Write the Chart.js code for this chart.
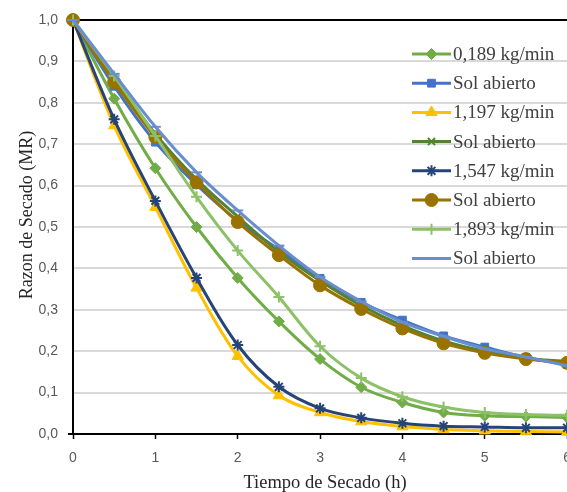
<!DOCTYPE html>
<html>
<head>
<meta charset="utf-8">
<script src="https://cdn.jsdelivr.net/npm/chart.js@4.4.0/dist/chart.umd.min.js"></script>
<style>
  html, body { margin: 0; padding: 0; background: #ffffff; overflow: hidden; }
  #wrap { width: 620px; height: 492px; position: relative; }
  #c { position: absolute; left: 0; top: 0; }
</style>
</head>
<body>
<div id="wrap"><canvas id="c" width="575" height="492"></canvas></div>
<script>
// ---- Data ----
const times = [0, 0.5, 1, 1.5, 2, 2.5, 3, 3.5, 4, 4.5, 5, 5.5, 6];
const seriesLabels = ['0,189 kg/min', 'Sol abierto', '1,197 kg/min', 'Sol abierto', '1,547 kg/min', 'Sol abierto', '1,893 kg/min', 'Sol abierto'];
const mr0189   = [1.0, 0.81, 0.642, 0.500, 0.377, 0.272, 0.181, 0.113, 0.076, 0.052, 0.044, 0.042, 0.040];
const solA     = [1.0, 0.84, 0.705, 0.602, 0.515, 0.445, 0.376, 0.318, 0.275, 0.237, 0.210, 0.185, 0.168];
const mr1197   = [1.0, 0.745, 0.548, 0.353, 0.188, 0.093, 0.052, 0.030, 0.018, 0.011, 0.008, 0.006, 0.005];
const solB     = [1.0, 0.86, 0.725, 0.615, 0.525, 0.440, 0.370, 0.310, 0.262, 0.225, 0.200, 0.183, 0.175];
const mr1547   = [1.0, 0.760, 0.563, 0.377, 0.215, 0.114, 0.062, 0.039, 0.026, 0.019, 0.017, 0.015, 0.015];
const solC     = [1.0, 0.85, 0.717, 0.608, 0.512, 0.432, 0.359, 0.302, 0.255, 0.219, 0.196, 0.181, 0.172];
const mr1893   = [1.0, 0.865, 0.720, 0.573, 0.443, 0.331, 0.212, 0.135, 0.090, 0.065, 0.052, 0.047, 0.045];
const solD     = [1.0, 0.87, 0.742, 0.632, 0.540, 0.455, 0.379, 0.320, 0.270, 0.236, 0.206, 0.186, 0.165];
const yTickLabels = ['0,0','0,1','0,2','0,3','0,4','0,5','0,6','0,7','0,8','0,9','1,0'];
const xTickLabels = ['0','1','2','3','4','5','6'];
const xTitle = 'Tiempo de Secado (h)';
const yTitle = 'Razon de Secado (MR)';

const allSeries = [mr0189, solA, mr1197, solB, mr1547, solC, mr1893, solD];
const colors = ['#70AD47', '#4472C4', '#FFC000', '#548235', '#264478', '#997300', '#8CC168', '#698ED0'];
const styles = ['rectRot', 'rect', 'triangle', 'crossRot', 'star', 'circle', 'cross', 'line'];
const radii  = [5.5, 5.5, 6.5, 5, 5.5, 6.5, 5.5, 5.5];

const TARGET_RIGHT = 567;

function buildDatasets() {
  return allSeries.map((vals, i) => {
    const stroked = ['crossRot', 'star', 'cross', 'line'].includes(styles[i]);
    return {
      label: seriesLabels[i],
      data: times.map((t, k) => ({ x: t, y: vals[k] })),
      borderColor: colors[i],
      backgroundColor: colors[i],
      borderWidth: 3,
      tension: 0.35,
      pointStyle: styles[i],
      pointRadius: radii[i],
      pointBackgroundColor: colors[i],
      pointBorderColor: colors[i],
      pointBorderWidth: stroked ? 2 : 1,
      clip: false,
      order: allSeries.length - i
    };
  });
}

const extrasPlugin = {
  id: 'xlExtras',
  afterDraw(chart) {
    const ctx = chart.ctx;
    const top = 54, step = 29.2, x0 = 412, x1 = 451;
    ctx.save();
    chart.data.datasets.forEach((ds, i) => {
      const y = top + i * step;
      ctx.strokeStyle = ds.borderColor;
      ctx.lineWidth = 3;
      ctx.beginPath(); ctx.moveTo(x0, y); ctx.lineTo(x1, y); ctx.stroke();
      ctx.fillStyle = ds.pointBackgroundColor;
      ctx.strokeStyle = ds.pointBorderColor;
      ctx.lineWidth = ds.pointBorderWidth;
      Chart.helpers.drawPoint(ctx, { pointStyle: ds.pointStyle, radius: ds.pointRadius, rotation: 0, borderWidth: ds.pointBorderWidth }, (x0 + x1) / 2, y);
      ctx.fillStyle = '#404040';
      ctx.font = '19px "Liberation Serif"';
      ctx.textBaseline = 'middle';
      ctx.textAlign = 'left';
      ctx.fillText(ds.label, 453, y + 1);
    });
    // axis titles
    ctx.fillStyle = '#262626';
    ctx.font = '18.5px "Liberation Serif"';
    ctx.textAlign = 'center';
    ctx.textBaseline = 'middle';
    ctx.fillText(xTitle, 325, 483);
    ctx.translate(27, 215);
    ctx.rotate(-Math.PI / 2);
    ctx.font = '18px "Liberation Serif"';
    ctx.fillText(yTitle, 0, 0);
    ctx.restore();
  }
};

function makeChart(canvas) {
  return new Chart(canvas, {
    type: 'line',
    data: { datasets: buildDatasets() },
    options: {
      responsive: false,
      maintainAspectRatio: false,
      animation: false,
      devicePixelRatio: 1,
      layout: { padding: { top: 20, left: 0, right: 0, bottom: 0 } },
      plugins: { legend: { display: false }, tooltip: { enabled: false } },
      scales: {
        x: {
          type: 'linear', min: 0, max: 6,
          afterFit(scale) { scale.height = 58; },
          ticks: {
            stepSize: 1, padding: 11, color: '#595959',
            font: { family: 'Liberation Sans', size: 14 },
            maxRotation: 0,
            callback: (v) => xTickLabels[Math.round(v)] ?? ''
          },
          grid: { drawOnChartArea: false, drawTicks: true, tickLength: 5, tickColor: '#000000', tickWidth: 1.5 },
          border: { display: true, color: '#000000', width: 2 },
          title: { display: false }
        },
        y: {
          type: 'linear', min: 0, max: 1,
          afterFit(scale) { scale.width = 73; scale.paddingTop = 0; scale.paddingBottom = 0; },
          ticks: {
            stepSize: 0.1, padding: 10, color: '#595959',
            font: { family: 'Liberation Sans', size: 14 },
            callback: (v) => yTickLabels[Math.round(v * 10)] ?? ''
          },
          grid: {
            drawTicks: true, tickLength: 5,
            color: (c) => (c.tick && Math.abs(c.tick.value - 1) < 1e-6) ? '#000000' : '#D9D9D9',
            lineWidth: 2,
            tickColor: (c) => (c.tick && Math.abs(c.tick.value) < 1e-6) ? '#000000' : 'rgba(0,0,0,0)'
          },
          border: { display: true, color: '#000000', width: 2 },
          title: { display: false }
        }
      }
    },
    plugins: [extrasPlugin]
  });
}

const wrap = document.getElementById('wrap');
let canvas = document.getElementById('c');
let chart = makeChart(canvas);
// Widen the canvas so the plot area reaches the window's right edge (last tick label is cut, as in the reference)
const dx = Math.round(TARGET_RIGHT - chart.chartArea.right);
if (dx !== 0) {
  const w = canvas.width + dx;
  chart.destroy();
  canvas.remove();
  canvas = document.createElement('canvas');
  canvas.id = 'c';
  canvas.width = w;
  canvas.height = 492;
  wrap.appendChild(canvas);
  chart = makeChart(canvas);
}
</script>
</body>
</html>
